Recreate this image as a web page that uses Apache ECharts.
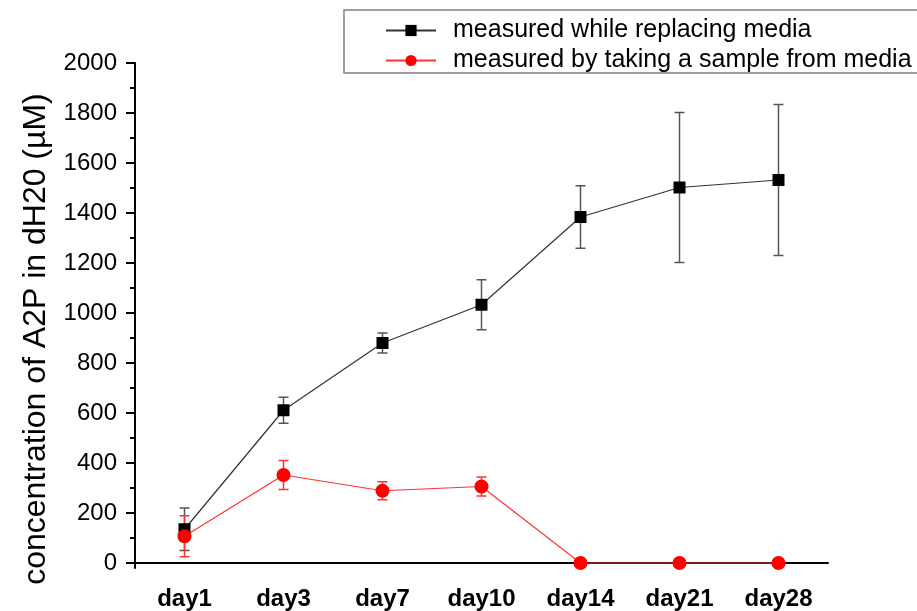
<!DOCTYPE html>
<html>
<head>
<meta charset="utf-8">
<script src="https://cdn.jsdelivr.net/npm/echarts@6/dist/echarts.min.js"></script>
<style>
html,body{margin:0;padding:0;background:#fff;}
#c{width:917px;height:611px;}
</style>
</head>
<body>
<div id="c"></div>
<script>
const categories = ['day1','day3','day7','day10','day14','day21','day28'];
const seriesNames = ['measured while replacing media','measured by taking a sample from media'];
const replacingMean = [135, 611, 880, 1033, 1384, 1502, 1532];
const replacingErr  = [85, 52, 40, 100, 125, 300, 302];
const sampleMean = [107, 352, 289, 306, 0, 0, 0];
const sampleErr  = [82, 58, 36, 38, 0, 0, 0];
const yTickLabels = [0,200,400,600,800,1000,1200,1400,1600,1800,2000];
const yMinorTicks = [100,300,500,700,900,1100,1300,1500,1700,1900];
const yAxisTitle = 'concentration of A2P in dH20 (µM)';

const FONT = '"Liberation Sans", Arial, sans-serif';

function errData(mean, err){
  return mean.map((m,i)=>[i, m-err[i], m+err[i]]);
}
function errRender(color){
  return function(params, api){
    const x = api.value(0);
    const lo = api.coord([x, api.value(1)]);
    const hi = api.coord([x, api.value(2)]);
    const h = 5;
    const st = {stroke: color, lineWidth: 1.5, fill: null};
    return {type:'group', children:[
      {type:'line', shape:{x1:lo[0], y1:lo[1], x2:hi[0], y2:hi[1]}, style:st},
      {type:'line', shape:{x1:lo[0]-h, y1:lo[1], x2:lo[0]+h, y2:lo[1]}, style:st},
      {type:'line', shape:{x1:hi[0]-h, y1:hi[1], x2:hi[0]+h, y2:hi[1]}, style:st}
    ]};
  };
}

const chart = echarts.init(document.getElementById('c'), null, {renderer:'canvas'});
chart.setOption({
  animation:false,
  backgroundColor:'#fff',
  textStyle:{fontFamily:FONT},
  grid:{left:135, top:63, right:89, bottom:42, containLabel:false},
  legend:{
    orient:'vertical', left:344, top:10,
    data: seriesNames,
    borderColor:'#808080', borderWidth:1.5,
    padding:[8, 8, 0, 41],
    itemWidth:50, itemHeight:14, itemGap:5,
    textStyle:{fontSize:25, color:'#000', fontFamily:FONT, padding:[0,0,0,12]}
  },
  graphic:[{
    type:'text', x:36, y:339, rotation:Math.PI/2,
    style:{text:yAxisTitle, font:'32px "Liberation Sans", Arial, sans-serif', fill:'#000', textAlign:'center', textVerticalAlign:'middle'}
  }],
  xAxis:[{
    type:'category', data:categories, boundaryGap:true, position:'bottom',
    axisLine:{lineStyle:{color:'#000', width:2}},
    axisTick:{alignWithLabel:true, interval:0, length:10, lineStyle:{color:'#000', width:2}},
    axisLabel:{interval:0, margin:19, fontSize:24, fontWeight:'bold', color:'#000', fontFamily:FONT},
    splitLine:{show:false}
  },{
    type:'category', data:categories, boundaryGap:true, position:'bottom',
    axisLine:{show:false},
    axisTick:{alignWithLabel:false, interval:0, length:5, lineStyle:{color:'#000', width:2}},
    axisLabel:{show:false},
    splitLine:{show:false}
  }],
  yAxis:[{
    type:'value', min:-20, max:2000,
    axisLine:{show:true, lineStyle:{color:'#000', width:2}},
    axisTick:{show:true, length:9, customValues:yTickLabels, lineStyle:{color:'#000', width:2}},
    axisLabel:{customValues:yTickLabels, margin:18, fontSize:24, color:'#000', fontFamily:FONT,
               formatter: v => String(v)},
    splitLine:{show:false}
  },{
    type:'value', min:-20, max:2000, position:'left',
    axisLine:{show:false},
    axisTick:{show:true, length:5, customValues:yMinorTicks, lineStyle:{color:'#000', width:2}},
    axisLabel:{show:false},
    splitLine:{show:false}
  }],
  series:[
    {type:'custom', name:'errA', xAxisIndex:0, yAxisIndex:0, renderItem:errRender('#555555'), data:errData(replacingMean, replacingErr), z:1, silent:true},
    {type:'custom', name:'errB', xAxisIndex:0, yAxisIndex:0, renderItem:errRender('#ff3333'), data:errData(sampleMean, sampleErr), z:1, silent:true},
    {type:'line', name:seriesNames[0], data:replacingMean, symbol:'rect', symbolSize:12,
     itemStyle:{color:'#000'}, lineStyle:{color:'#333', width:1.2}, z:3},
    {type:'line', name:seriesNames[1], data:sampleMean, symbol:'circle', symbolSize:14,
     itemStyle:{color:'#ff0000'}, lineStyle:{color:'#ff3333', width:1.2}, z:3}
  ]
});
</script>
</body>
</html>
